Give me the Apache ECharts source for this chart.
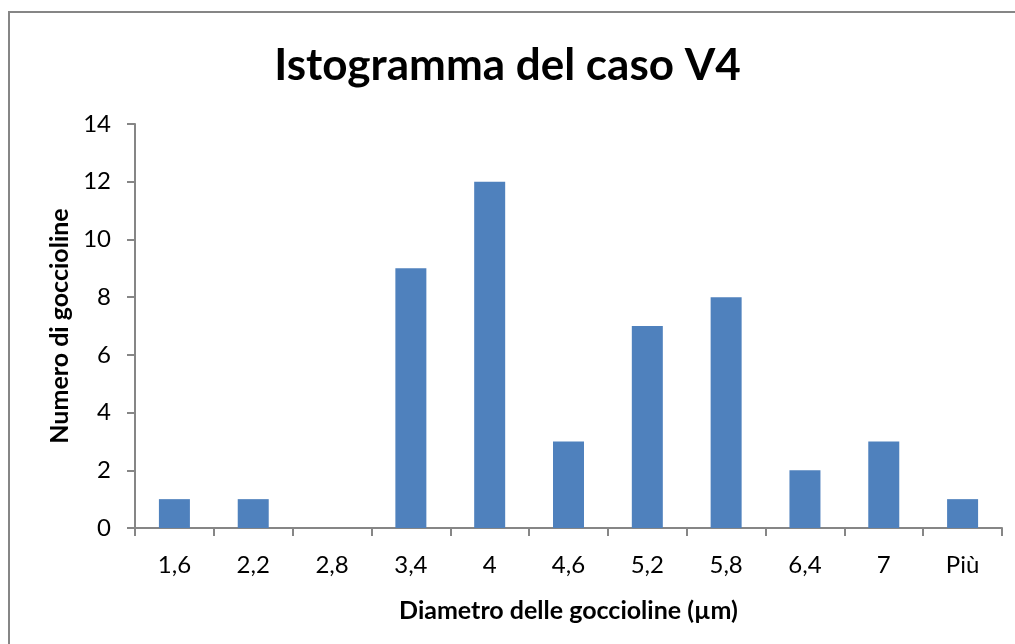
<!DOCTYPE html>
<html>
<head>
<meta charset="utf-8">
<script src="https://cdn.jsdelivr.net/npm/echarts@6/dist/echarts.min.js"></script>
<style>
  html, body { margin: 0; padding: 0; background: #fff; }
  #chart { width: 1015px; height: 644px; }
</style>
</head>
<body>
<div id="chart"></div>
<script>
// classi dell'istogramma e frequenze
var categorie = ['1,6', '2,2', '2,8', '3,4', '4', '4,6', '5,2', '5,8', '6,4', '7', 'Più'];
var frequenze = [1, 1, 0, 9, 12, 3, 7, 8, 2, 3, 1];
var yMin = 0, yMax = 14, yPasso = 2;

var font = 'Lato, "Open Sans", sans-serif';
var grigio = '#868686';

var chart = echarts.init(document.getElementById('chart'));
var option = {
    animation: false,
    backgroundColor: '#fff',
    title: {
        text: 'Istogramma del caso V4',
        left: 'center',
        top: 39,
        textStyle: {
            fontFamily: font,
            fontSize: 44,
            fontWeight: 'bold',
            color: '#000'
        }
    },
    graphic: [
        {
            type: 'rect',
            shape: { x: 9, y: 12, width: 1100, height: 700 },
            style: { fill: 'none', stroke: grigio, lineWidth: 2 },
            silent: true
        }
    ],
    grid: {
        left: 135,
        right: 13,
        top: 124,
        bottom: 116
    },
    xAxis: {
        type: 'category',
        data: categorie,
        boundaryGap: true,
        name: 'Diametro delle goccioline (µm)',
        nameLocation: 'middle',
        nameGap: 70,
        nameTextStyle: {
            fontFamily: font,
            fontSize: 25,
            fontWeight: 'bold',
            color: '#000'
        },
        axisLine: { lineStyle: { color: grigio, width: 2 } },
        axisTick: { show: true, length: 8, lineStyle: { color: grigio, width: 2 } },
        axisLabel: {
            fontFamily: font,
            fontSize: 24,
            color: '#000',
            margin: 25
        }
    },
    yAxis: {
        type: 'value',
        min: yMin,
        max: yMax,
        interval: yPasso,
        name: 'Numero di goccioline',
        nameLocation: 'middle',
        nameGap: 63,
        nameTextStyle: {
            fontFamily: font,
            fontSize: 25,
            fontWeight: 'bold',
            color: '#000'
        },
        axisLine: { show: true, lineStyle: { color: grigio, width: 2 } },
        axisTick: { show: true, length: 8, lineStyle: { color: grigio, width: 2 } },
        splitLine: { show: false },
        axisLabel: {
            fontFamily: font,
            fontSize: 24,
            color: '#000',
            margin: 24
        }
    },
    series: [
        {
            name: 'Frequenza',
            type: 'bar',
            data: frequenze,
            barWidth: 31,
            itemStyle: { color: '#4F81BD' }
        }
    ]
};
chart.setOption(option);
</script>
</body>
</html>
